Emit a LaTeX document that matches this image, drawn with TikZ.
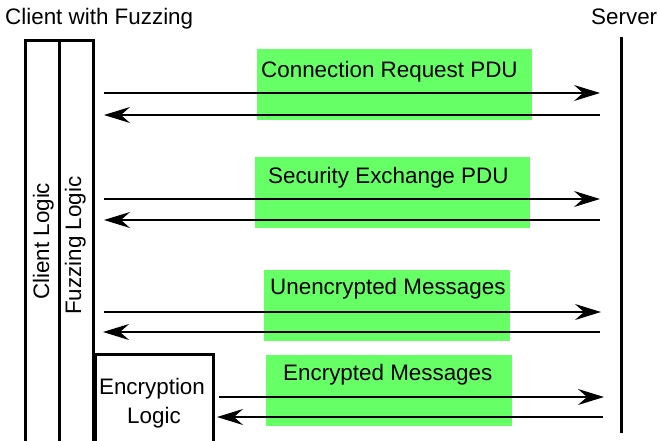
\documentclass[tikz,border=0pt]{standalone}
\usepackage{fontspec}
\setmainfont{Liberation Sans}
\usetikzlibrary{arrows.meta}
\definecolor{msggreen}{HTML}{66FF66}
\tikzset{
  block/.style={draw, line width=3pt, inner sep=0pt, anchor=north west},
  msgband/.style={fill=msggreen, draw=none, inner sep=0pt, anchor=north west},
  lbl/.style={inner sep=0pt, anchor=base west},
  msg/.style={line width=1.6pt, -{Stealth[length=26pt, width=16pt, inset=9pt]}},
}
\begin{document}
\begin{tikzpicture}[x=1pt, y=-1pt, font=\fontsize{22.4}{26}\selectfont]
\useasboundingbox (0,0) rectangle (658,441);
\clip (0,0) rectangle (658,441);

% headings
\node[lbl] (clienthead) at (5,25) {Client with Fuzzing};
\node[lbl] (serverhead) at (591,25) {Server};

% client side stack
\node[block, minimum width=34pt, minimum height=408pt] (client) at (24,39) {};
\node[block, minimum width=34pt, minimum height=408pt] (fuzz) at (58,39) {};
\node[block, minimum width=118pt, minimum height=95pt] (enc) at (94,353) {};
\node[lbl, rotate=90] (clientlbl) at (49,300) {Client Logic};
\node[lbl, rotate=90] (fuzzlbl) at (81,315) {Fuzzing Logic};
\node[lbl, anchor=base] (enclbl1) at (152,394) {Encryption};
\node[lbl, anchor=base] (enclbl2) at (154,423) {Logic};

% server lifeline
\coordinate (srvtop) at (621,37);
\coordinate (srvbot) at (621,433);
\draw[line width=3pt] (srvtop) -- (srvbot);

% message bands
\node[msgband, minimum width=275pt, minimum height=71pt] (band1) at (257,49) {};
\node[msgband, minimum width=275pt, minimum height=71pt] (band2) at (255,157) {};
\node[msgband, minimum width=246pt, minimum height=71pt] (band3) at (264,270) {};
\node[msgband, minimum width=246pt, minimum height=71pt] (band4) at (266,355) {};
\node[lbl] (msg1) at (261,78) {Connection Request PDU};
\node[lbl] (msg2) at (268,183) {Security Exchange PDU};
\node[lbl] (msg3) at (270,294.5) {Unencrypted Messages};
\node[lbl] (msg4) at (283,380) {Encrypted Messages};

% message endpoints
\coordinate (c1a) at (104,93);  \coordinate (s1a) at (600,93);
\coordinate (s1b) at (600,115); \coordinate (c1b) at (104,115);
\coordinate (c2a) at (104,199); \coordinate (s2a) at (600,199);
\coordinate (s2b) at (600,220); \coordinate (c2b) at (104,220);
\coordinate (c3a) at (104,312); \coordinate (s3a) at (601,312);
\coordinate (s3b) at (600,332); \coordinate (c3b) at (103,332);
\coordinate (c4a) at (219,397); \coordinate (s4a) at (604,397);
\coordinate (s4b) at (603,417); \coordinate (c4b) at (217,417);

\draw[msg] (c1a) -- (s1a);
\draw[msg] (s1b) -- (c1b);
\draw[msg] (c2a) -- (s2a);
\draw[msg] (s2b) -- (c2b);
\draw[msg] (c3a) -- (s3a);
\draw[msg] (s3b) -- (c3b);
\draw[msg] (c4a) -- (s4a);
\draw[msg] (s4b) -- (c4b);
\end{tikzpicture}
\end{document}
